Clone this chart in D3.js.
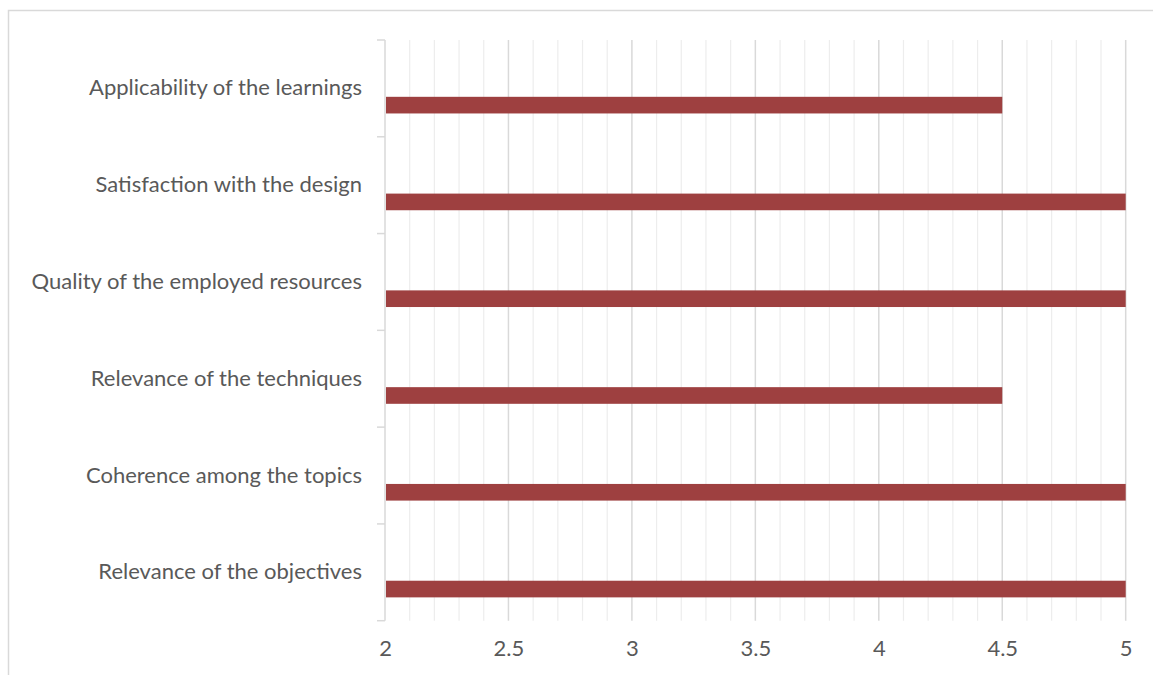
<!DOCTYPE html>
<html>
<head>
<meta charset="utf-8">
<script src="https://cdn.jsdelivr.net/npm/d3@7"></script>
<style>
  body { margin: 0; background: #fff; }
  text { font-family: Lato, "Open Sans", sans-serif; fill: #595959; }
</style>
</head>
<body>
<div id="chart"></div>
<script>
// categories, top to bottom as drawn
var categories = ["Applicability of the learnings", "Satisfaction with the design",
  "Quality of the employed resources", "Relevance of the techniques",
  "Coherence among the topics", "Relevance of the objectives"];
// scores for each category
var scores = [4.5, 5, 5, 4.5, 5, 5];
// x axis tick labels
var xTicks = [2, 2.5, 3, 3.5, 4, 4.5, 5];

var width = 1153, height = 675;
//plot area
var plotLeft = 385, plotRight = 1125.7, plotTop = 40, plotBottom = 620.7;

var svg = d3.select("#chart").append("svg")
  .attr("width", width)
  .attr("height", height)
  .style("display", "block");

//outer frame (only top and left edges are visible)
svg.append("path")
  .attr("d", "M8.5,675 V10.5 H1153")
  .attr("fill", "none")
  .attr("stroke", "#d9d9d9")
  .attr("stroke-width", 1.5);

var x = d3.scaleLinear().domain([2, 5]).range([plotLeft, plotRight]);
var y = d3.scaleBand().domain(categories).range([plotTop, plotBottom]).padding(0);

//minor gridlines every 0.1
svg.append("g").selectAll("line")
  .data(x.ticks(30).filter(function(d) { return xTicks.indexOf(+d.toFixed(1)) < 0; }))
  .enter().append("line")
  .attr("x1", function(d) { return x(d); })
  .attr("x2", function(d) { return x(d); })
  .attr("y1", plotTop).attr("y2", plotBottom)
  .attr("stroke", "#ededed")
  .attr("stroke-width", 1.2);

//major gridlines
svg.append("g").selectAll("line")
  .data(xTicks.slice(1))
  .enter().append("line")
  .attr("x1", function(d) { return x(d); })
  .attr("x2", function(d) { return x(d); })
  .attr("y1", plotTop).attr("y2", plotBottom)
  .attr("stroke", "#d9d9d9")
  .attr("stroke-width", 1.5);

//y axis line and ticks on band boundaries
var bounds = categories.map(function(c) { return y(c); }).concat([plotBottom]);
svg.append("line")
  .attr("x1", plotLeft).attr("x2", plotLeft)
  .attr("y1", plotTop).attr("y2", plotBottom)
  .attr("stroke", "#d9d9d9").attr("stroke-width", 1.5);
svg.append("g").selectAll("line")
  .data(bounds)
  .enter().append("line")
  .attr("x1", plotLeft - 8).attr("x2", plotLeft)
  .attr("y1", function(d) { return d; })
  .attr("y2", function(d) { return d; })
  .attr("stroke", "#d9d9d9").attr("stroke-width", 1.5);

//bars sit in the lower part of each band
var bw = y.bandwidth();
svg.append("g").selectAll("rect")
  .data(categories)
  .enter().append("rect")
  .attr("x", x(2) + 1)
  .attr("y", function(d) { return y(d) + bw * 0.587; })
  .attr("width", function(d, i) { return x(scores[i]) - x(2) - 1; })
  .attr("height", bw * 0.172)
  .attr("fill", "#9e4040");

//category labels
var yAxis = svg.append("g")
  .attr("transform", "translate(" + (plotLeft - 23) + ",0)")
  .call(d3.axisLeft(y).tickSize(0).tickPadding(0));
yAxis.select(".domain").remove();
yAxis.selectAll("text")
  .style("font-size", "22px")
  .style("font-family", "Lato, 'Open Sans', sans-serif")
  .attr("fill", "#606060");

//x axis labels
var xAxis = svg.append("g")
  .attr("transform", "translate(0," + plotBottom + ")")
  .call(d3.axisBottom(x).tickValues(xTicks).tickFormat(d3.format("~g")).tickSize(0).tickPadding(20));
xAxis.select(".domain").remove();
xAxis.selectAll("text")
  .style("font-size", "22px")
  .style("font-family", "Lato, 'Open Sans', sans-serif")
  .attr("fill", "#606060");
</script>
</body>
</html>
